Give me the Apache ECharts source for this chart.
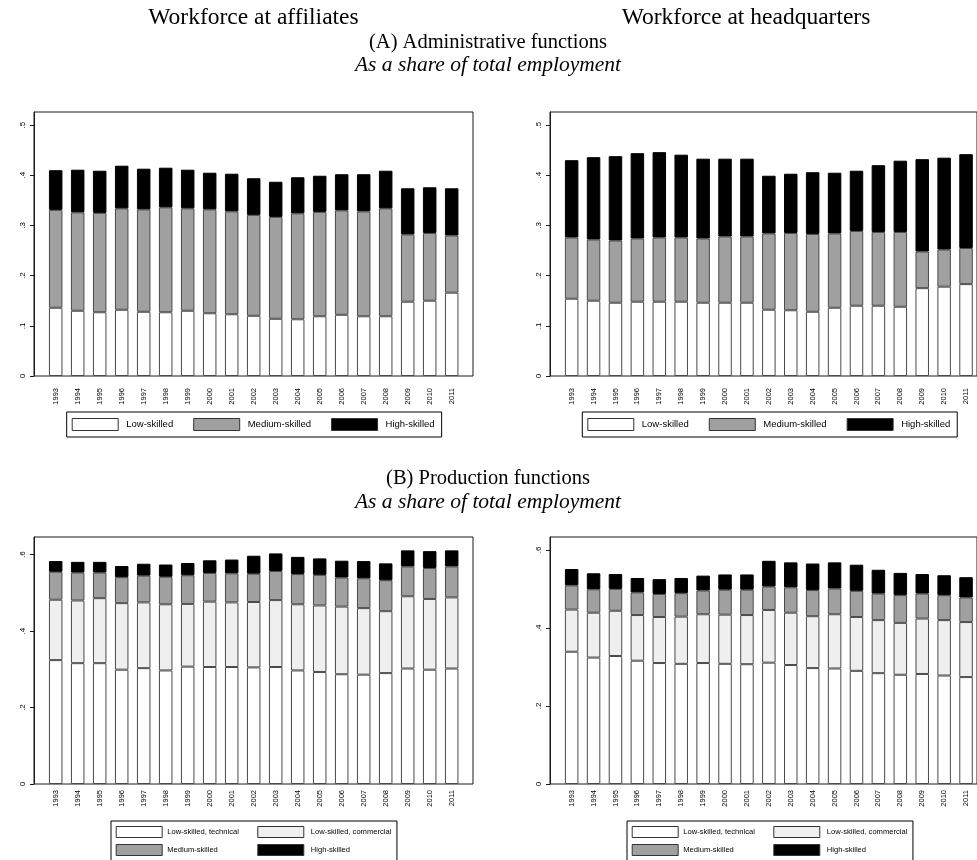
<!DOCTYPE html>
<html><head><meta charset="utf-8">
<script src="https://cdn.jsdelivr.net/npm/echarts@6/dist/echarts.min.js"></script>
<style>html,body{margin:0;padding:0;background:#fff}#c{width:977px;height:860px}</style>
</head><body><div id="c"></div>
<script>
const years = ['1993','1994','1995','1996','1997','1998','1999','2000','2001','2002','2003','2004','2005','2006','2007','2008','2009','2010','2011'];
const yTicksA = [0, 0.1, 0.2, 0.3, 0.4, 0.5];
const yTicksB = [0, 0.2, 0.4, 0.6];

// (A) Administrative functions — affiliates
const affLow  = [0.136,0.130,0.127,0.132,0.128,0.127,0.130,0.125,0.123,0.120,0.114,0.113,0.119,0.122,0.119,0.119,0.148,0.150,0.166];
const affMed  = [0.195,0.196,0.198,0.202,0.204,0.209,0.204,0.207,0.205,0.201,0.203,0.211,0.208,0.208,0.209,0.215,0.134,0.135,0.114];
const affHigh = [0.079,0.085,0.084,0.085,0.081,0.079,0.077,0.073,0.075,0.073,0.070,0.072,0.072,0.072,0.074,0.075,0.092,0.091,0.094];
// (A) Administrative functions — headquarters
const hqLow  = [0.154,0.150,0.146,0.148,0.148,0.148,0.146,0.146,0.146,0.132,0.131,0.128,0.136,0.140,0.140,0.138,0.175,0.178,0.183];
const hqMed  = [0.122,0.122,0.124,0.126,0.128,0.128,0.128,0.132,0.132,0.152,0.154,0.155,0.148,0.149,0.147,0.149,0.073,0.074,0.072];
const hqHigh = [0.154,0.164,0.168,0.170,0.170,0.165,0.159,0.155,0.155,0.115,0.118,0.123,0.121,0.120,0.133,0.142,0.184,0.183,0.187];

// (B) Production functions — affiliates
const pAffLowTech = [0.324,0.316,0.316,0.299,0.303,0.297,0.307,0.306,0.306,0.305,0.306,0.297,0.293,0.287,0.286,0.290,0.302,0.299,0.302];
const pAffLowComm = [0.158,0.164,0.170,0.174,0.172,0.173,0.164,0.171,0.169,0.171,0.175,0.173,0.174,0.177,0.174,0.162,0.189,0.185,0.186];
const pAffMed     = [0.073,0.073,0.067,0.068,0.070,0.072,0.075,0.075,0.076,0.074,0.076,0.079,0.080,0.076,0.078,0.081,0.078,0.081,0.081];
const pAffHigh    = [0.028,0.028,0.028,0.029,0.031,0.032,0.032,0.033,0.036,0.047,0.046,0.045,0.043,0.044,0.045,0.044,0.042,0.044,0.042];
// (B) Production functions — headquarters
const pHqLowTech = [0.339,0.324,0.328,0.316,0.310,0.308,0.310,0.308,0.307,0.311,0.305,0.297,0.296,0.290,0.284,0.280,0.282,0.278,0.274];
const pHqLowComm = [0.108,0.115,0.116,0.117,0.118,0.121,0.125,0.126,0.126,0.135,0.134,0.133,0.139,0.138,0.136,0.133,0.142,0.142,0.141];
const pHqMed     = [0.062,0.060,0.056,0.058,0.059,0.060,0.061,0.064,0.065,0.060,0.065,0.067,0.066,0.067,0.068,0.071,0.064,0.064,0.063];
const pHqHigh    = [0.042,0.041,0.038,0.037,0.038,0.039,0.038,0.039,0.039,0.066,0.064,0.068,0.067,0.067,0.061,0.057,0.050,0.051,0.052];

const SANS = 'Liberation Sans';
const SERIF = 'Liberation Serif';
const C_WHITE = '#ffffff', C_LIGHT = '#efefef', C_MED = '#a0a0a0', C_HIGH = '#000000';

const chart = echarts.init(document.getElementById('c'), null, {renderer: 'canvas'});

function fmt(v) { return v === 0 ? '0' : String(+v.toFixed(2)).replace(/^0/, ''); }

const panels = [
  {left: 34,  top: 112, height: 264, max: 0.526, ticks: yTicksA, inter: 0.1},
  {left: 550, top: 112, height: 264, max: 0.526, ticks: yTicksA, inter: 0.1},
  {left: 34,  top: 537, height: 247, max: 0.646, ticks: yTicksB, inter: 0.2},
  {left: 550, top: 537, height: 247, max: 0.633, ticks: yTicksB, inter: 0.2}
];
const grid = [], xAxis = [], yAxis = [];
panels.forEach((p, i) => {
  grid.push({left: p.left, top: p.top, width: 439, height: p.height, show: true, borderColor: '#1a1a1a', borderWidth: 1, backgroundColor: '#fff'});
  grid.push({left: p.left + 10.7, top: p.top, width: 418, height: p.height});
  xAxis.push({gridIndex: 2*i, type: 'value', min: 0, max: 1, show: false});
  xAxis.push({gridIndex: 2*i+1, type: 'category', data: years,
    axisLine: {show: false}, axisTick: {show: false},
    axisLabel: {rotate: 90, fontSize: 7.5, fontFamily: SANS, color: '#000', margin: i < 2 ? 12 : 6, interval: 0}});
  yAxis.push({gridIndex: 2*i, type: 'value', min: 0, max: p.max, interval: p.inter,
    axisLine: {show: true, lineStyle: {color: '#1a1a1a', width: 1}},
    axisTick: {show: true, length: 4, lineStyle: {color: '#1a1a1a'}, customValues: p.ticks},
    axisLabel: {rotate: 90, fontSize: 8, fontFamily: SANS, color: '#000', margin: 7, customValues: p.ticks, formatter: fmt},
    splitLine: {show: false}});
  yAxis.push({gridIndex: 2*i+1, type: 'value', min: 0, max: p.max, show: false, splitLine: {show: false}});
});

function bar(name, data, color, idx, stack, border) {
  return {type: 'bar', name: name, data: data, xAxisIndex: idx, yAxisIndex: idx, stack: stack,
    barWidth: 13.5, itemStyle: {color: color, borderColor: border || '#4a4a4a', borderWidth: 1},
    emphasis: {disabled: true}, animation: false};
}
const series = [
  bar('Low-skilled', affLow, C_WHITE, 1, 'a1'),
  bar('Medium-skilled', affMed, C_MED, 1, 'a1'),
  bar('High-skilled', affHigh, C_HIGH, 1, 'a1', '#000'),
  bar('Low-skilled', hqLow, C_WHITE, 3, 'a2'),
  bar('Medium-skilled', hqMed, C_MED, 3, 'a2'),
  bar('High-skilled', hqHigh, C_HIGH, 3, 'a2', '#000'),
  bar('Low-skilled, technical', pAffLowTech, C_WHITE, 5, 'b1'),
  bar('Low-skilled, commercial', pAffLowComm, C_LIGHT, 5, 'b1'),
  bar('Medium-skilled', pAffMed, C_MED, 5, 'b1'),
  bar('High-skilled', pAffHigh, C_HIGH, 5, 'b1', '#000'),
  bar('Low-skilled, technical', pHqLowTech, C_WHITE, 7, 'b2'),
  bar('Low-skilled, commercial', pHqLowComm, C_LIGHT, 7, 'b2'),
  bar('Medium-skilled', pHqMed, C_MED, 7, 'b2'),
  bar('High-skilled', pHqHigh, C_HIGH, 7, 'b2', '#000')
];

const legItem = {borderColor: '#333', borderWidth: 1};
function legA(left, padRight) {
  return {left: left, top: 412, orient: 'horizontal', data: ['Low-skilled', 'Medium-skilled', 'High-skilled'],
    icon: 'rect', itemWidth: 46, itemHeight: 12, itemGap: 20, padding: [6, padRight, 6, 5],
    borderColor: '#000', borderWidth: 1, selectedMode: false, itemStyle: legItem,
    textStyle: {fontSize: 9.5, fontFamily: SANS, color: '#000', padding: [0, 0, 0, 3]}};
}
function legB(left) {
  return [
    {left: left, top: 821, height: 80, orient: 'vertical', data: ['Low-skilled, technical', 'Medium-skilled'],
      icon: 'rect', itemWidth: 46, itemHeight: 11, itemGap: 6, padding: [5, 158, 5, 4.7],
      borderColor: '#000', borderWidth: 1, selectedMode: false, itemStyle: legItem,
      textStyle: {fontSize: 7.6, fontFamily: SANS, color: '#000'}},
    {left: left + 146.3, top: 826, height: 80, orient: 'vertical', data: ['Low-skilled, commercial', 'High-skilled'],
      icon: 'rect', itemWidth: 46, itemHeight: 11, itemGap: 6, padding: 0,
      selectedMode: false, itemStyle: legItem,
      textStyle: {fontSize: 7.6, fontFamily: SANS, color: '#000', padding: [0, 0, 0, 2]}}
  ];
}
const legend = [legA(66.7, 7), legA(582.3, 7)].concat(legB(111), legB(627));

function ttl(text, left, top, italic, size) {
  return {text: text, left: left, top: top, textAlign: 'center', padding: 0,
    textStyle: {fontFamily: SERIF, fontSize: size || 20, fontWeight: 'normal', fontStyle: italic ? 'italic' : 'normal', color: '#000'}};
}
const title = [
  ttl('Workforce at affiliates', 253.5, 6, false, 23.5),
  ttl('Workforce at headquarters', 746, 6, false, 23.5),
  ttl('(A) Administrative functions', 488, 32, false, 20.5),
  ttl('As a share of total employment', 488, 54, true, 21.5),
  ttl('(B) Production functions', 488, 468, false, 20.5),
  ttl('As a share of total employment', 488, 491, true, 21.5)
];

chart.setOption({animation: false, backgroundColor: '#fff', title, grid, xAxis, yAxis, series, legend});
</script></body></html>
